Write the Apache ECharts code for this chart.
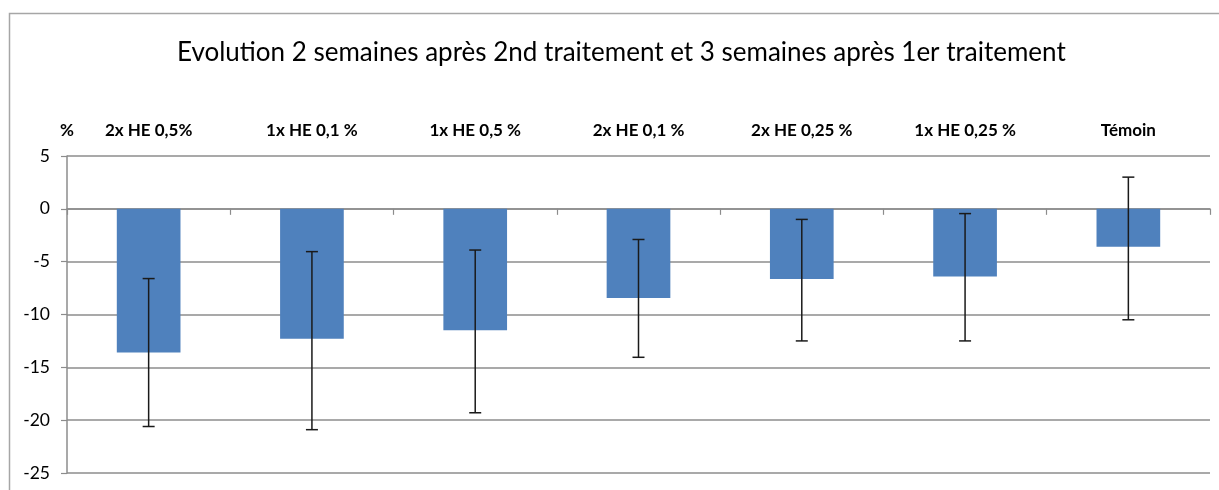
<!DOCTYPE html>
<html>
<head>
<meta charset="utf-8">
<script src="https://cdn.jsdelivr.net/npm/echarts@6/dist/echarts.min.js"></script>
<style>
html,body{margin:0;padding:0;background:#fff;}
#chart{width:1219px;height:490px;}
</style>
</head>
<body>
<div id="chart"></div>
<script>
const titleText = 'Evolution 2 semaines après 2nd traitement et 3 semaines après 1er traitement';
const categories = ['2x HE 0,5%', '1x HE 0,1 %', '1x HE 0,5 %', '2x HE 0,1 %', '2x HE 0,25 %', '1x HE 0,25 %', 'Témoin'];
const means = [-13.6, -12.3, -11.5, -8.45, -6.65, -6.4, -3.6];
const errLow = [-20.6, -20.9, -19.3, -14.05, -12.5, -12.5, -10.5];
const errHigh = [-6.6, -4.05, -3.9, -2.9, -1.0, -0.45, 3.0];
const yTicks = {min: -25, max: 5, interval: 5};

const chart = echarts.init(document.getElementById('chart'));
const errData = categories.map((c, i) => [i, errLow[i], errHigh[i]]);
const fontFam = 'Lato, "Open Sans", sans-serif';

chart.setOption({
  animation: false,
  backgroundColor: '#fff',
  title: {
    text: titleText,
    left: 172,
    top: 35,
    textStyle: {fontFamily: fontFam, fontSize: 26, fontWeight: 'normal', color: '#000'}
  },
  graphic: [{
    type: 'rect',
    shape: {x: 9.5, y: 13.5, width: 1240, height: 520},
    style: {fill: 'none', stroke: '#a6a6a6', lineWidth: 1.5},
    silent: true
  }],
  grid: {left: 67, right: 9, top: 156, bottom: 17},
  xAxis: [{
    type: 'category',
    data: categories,
    position: 'top',
    axisLine: {show: false, onZero: false},
    axisTick: {show: false},
    axisLabel: {margin: 17, color: '#000', fontFamily: fontFam, fontSize: 17, fontWeight: 'bold'}
  }, {
    type: 'category',
    data: categories,
    position: 'bottom',
    axisLine: {show: true, onZero: true, lineStyle: {color: '#8c8c8c', width: 1.5}},
    axisTick: {show: true, length: 6, lineStyle: {color: '#8c8c8c', width: 1.2}},
    axisLabel: {show: false}
  }],
  yAxis: {
    type: 'value',
    min: yTicks.min, max: yTicks.max, interval: yTicks.interval,
    name: '%',
    nameLocation: 'end',
    nameGap: 17,
    nameTextStyle: {color: '#000', fontFamily: fontFam, fontSize: 17, fontWeight: 'bold', align: 'center'},
    axisLine: {show: true, lineStyle: {color: '#8c8c8c', width: 1.5}},
    axisTick: {show: true, length: 6, lineStyle: {color: '#8c8c8c', width: 1.2}},
    axisLabel: {color: '#000', fontFamily: fontFam, fontSize: 17.5, margin: 17},
    splitLine: {show: true, lineStyle: {color: '#8c8c8c', width: 1.5}}
  },
  series: [{
    type: 'bar',
    xAxisIndex: 0,
    data: means,
    barWidth: '39%',
    itemStyle: {color: '#4F81BD'},
    z: 2
  }, {
    type: 'custom',
    xAxisIndex: 0,
    data: errData,
    z: 5,
    renderItem: function (params, api) {
      const x = api.value(0);
      const lo = api.coord([x, api.value(1)]);
      const hi = api.coord([x, api.value(2)]);
      const hw = 6;
      const style = {stroke: '#1a1a1a', lineWidth: 1.5};
      return {
        type: 'group',
        children: [
          {type: 'line', shape: {x1: lo[0], y1: lo[1], x2: hi[0], y2: hi[1]}, style},
          {type: 'line', shape: {x1: lo[0] - hw, y1: lo[1], x2: lo[0] + hw, y2: lo[1]}, style},
          {type: 'line', shape: {x1: hi[0] - hw, y1: hi[1], x2: hi[0] + hw, y2: hi[1]}, style}
        ]
      };
    }
  }]
});
</script>
</body>
</html>
